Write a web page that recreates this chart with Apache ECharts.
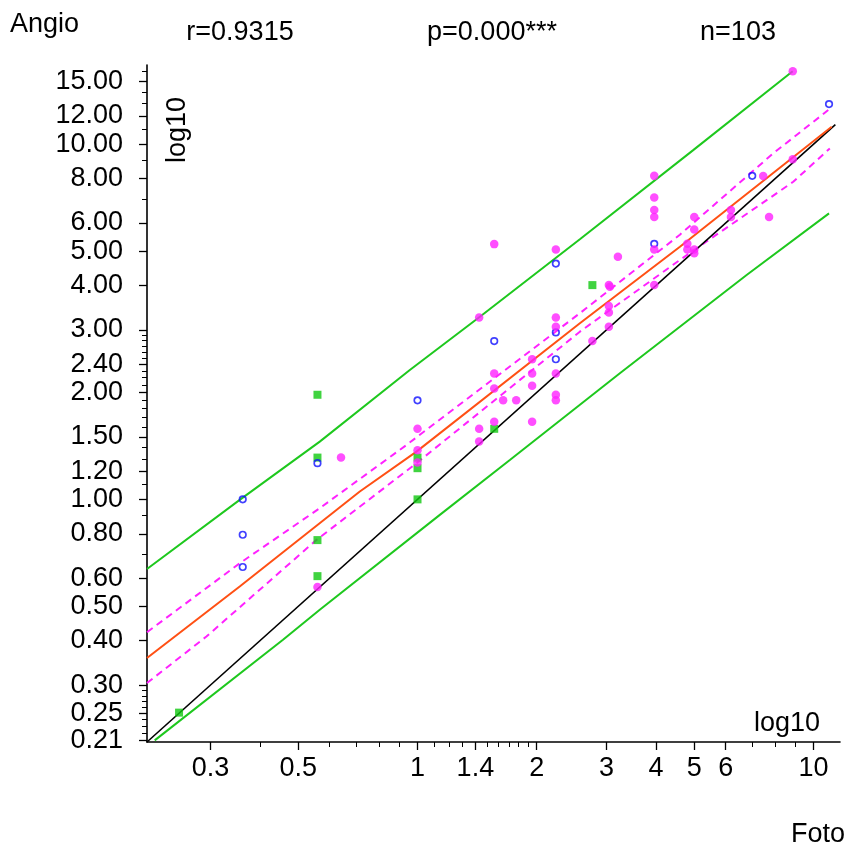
<!DOCTYPE html>
<html><head><meta charset="utf-8">
<script src="https://cdn.jsdelivr.net/npm/echarts@6/dist/echarts.min.js"></script>
<style>html,body{margin:0;padding:0;background:#fff}#c{width:848px;height:851px}</style>
</head><body><div id="c"></div>
<script>
const FONT = "'Liberation Sans', Arial, Helvetica, sans-serif";

// axis ranges (raw units, log10 scale)
const xRange = [0.2075, 11.66];
const yRange = [0.2075, 16.7];

// tick values and labels
const xMajorTicks = [0.3, 0.5, 1, 1.4, 2, 3, 4, 5, 6, 10];
const xTickLabels = ['0.3', '0.5', '1', '1.4', '2', '3', '4', '5', '6', '10'];
const xMinorTicks = [0.4, 0.6, 0.7, 0.8, 0.9, 1.1, 1.2, 1.3, 1.5, 1.6, 1.7, 1.8, 1.9, 7, 8, 9];
const yMajorTicks = [0.21, 0.25, 0.3, 0.4, 0.5, 0.6, 0.8, 1, 1.2, 1.5, 2, 2.4, 3, 4, 5, 6, 8, 10, 12, 15];
const yTickLabels = ['0.21', '0.25', '0.30', '0.40', '0.50', '0.60', '0.80', '1.00', '1.20', '1.50', '2.00', '2.40', '3.00', '4.00', '5.00', '6.00', '8.00', '10.00', '12.00', '15.00'];
const yMinorTicks = [0.22, 0.23, 0.24, 0.26, 0.27, 0.28, 0.29, 0.7, 0.9, 1.1, 1.3, 1.4, 1.6, 1.7, 1.8, 1.9, 2.1, 2.2, 2.3, 2.5, 2.6, 2.7, 2.8, 2.9, 7, 9, 11, 13, 14, 16];

// scatter groups (Foto, Angio)
const greenX = [0.25, 0.559, 0.559, 0.559, 0.559, 1.0, 1.0, 1.0, 1.562, 2.764];
const greenY = [0.251, 1.97, 1.311, 0.768, 0.608, 1.311, 1.224, 1.0, 1.58, 4.01];

const blueX = [0.362, 0.362, 0.362, 0.559, 1.0, 1.562, 2.235, 2.235, 2.235, 3.96, 7.0, 10.94];
const blueY = [1.0, 0.795, 0.645, 1.264, 1.90, 2.79, 4.61, 2.95, 2.48, 5.24, 8.14, 12.96];

const magX = [0.559, 0.641, 1.0, 1.0, 1.0, 1.431, 1.431, 1.431, 1.562, 1.562, 1.562, 1.562,
  1.645, 1.775, 1.947, 1.947, 1.947, 1.947, 2.235, 2.235, 2.235, 2.235, 2.235, 2.235,
  2.764, 3.042, 3.06, 3.042, 3.042, 3.042, 3.206, 3.96, 3.96, 3.96, 3.96, 3.96, 3.96,
  4.80, 4.80, 4.997, 4.997, 4.997, 4.997, 6.185, 6.185, 7.46, 7.72, 8.86, 8.86];
const magY = [0.567, 1.311, 1.58, 1.375, 1.27, 3.25, 1.58, 1.454, 5.23, 2.26, 2.05, 1.655,
  1.90, 1.90, 2.48, 2.26, 2.09, 1.655, 5.05, 3.25, 3.06, 2.26, 1.97, 1.90,
  2.79, 4.01, 3.97, 3.50, 3.36, 3.06, 4.82, 8.14, 7.08, 6.52, 6.24, 5.05, 4.01,
  5.24, 5.05, 6.24, 5.75, 5.05, 4.93, 6.52, 6.24, 8.13, 6.24, 9.06, 16.04];

// lines
const identX = [0.2075, 11.35];
const identY = [0.2075, 11.35];
const regX = [0.2075, 0.3557, 0.715, 0.994, 2.570, 4.598, 11.11];
const regY = [0.3576, 0.5686, 1.052, 1.363, 3.130, 5.141, 11.19];
const ciUpX = [0.2075, 0.3556, 0.5662, 0.9376, 2.570, 4.597, 7.907, 10.89];
const ciUpY = [0.4227, 0.6607, 0.9441, 1.4223, 3.342, 5.559, 9.419, 12.47];
const ciLoX = [0.2075, 0.2931, 0.5559, 0.9943, 2.570, 4.597, 8.886, 10.99];
const ciLoY = [0.3041, 0.4111, 0.7691, 1.2647, 2.965, 4.721, 7.834, 9.727];
const piUpX = [0.2075, 0.3557, 0.5665, 0.9563, 1.437, 2.570, 4.967, 8.856];
const piUpY = [0.637, 0.9968, 1.454, 2.313, 3.267, 5.395, 9.618, 16.04];
const piLoX = [0.2170, 0.4575, 0.5665, 1.1385, 1.7105, 3.243, 6.776, 10.94];
const piLoY = [0.2097, 0.4025, 0.4889, 0.9045, 1.2913, 2.265, 4.280, 6.385];

const L = Math.log10;
function pts(xs, ys) { return xs.map((x, i) => [L(x), L(ys[i])]); }
function fmt(vals, labels) {
  return function (v) {
    for (let i = 0; i < vals.length; i++) if (Math.abs(L(vals[i]) - v) < 1e-6) return labels[i];
    return '';
  };
}

const chart = echarts.init(document.getElementById('c'), null, { renderer: 'canvas' });
const axisCommon = { type: 'value', splitLine: { show: false }, scale: true };

function lineSeries(name, xs, ys, color, width, type) {
  return {
    name, type: 'line', data: pts(xs, ys), showSymbol: false, symbol: 'none',
    lineStyle: { color, width, type: type || 'solid' },
    z: 2, silent: true, animation: false, clip: true
  };
}

chart.setOption({
  animation: false,
  backgroundColor: '#fff',
  grid: { left: 147, right: 8, top: 65, bottom: 109, containLabel: false, outerBoundsMode: 'none' },
  xAxis: [
    Object.assign({}, axisCommon, {
      position: 'bottom', min: L(xRange[0]), max: L(xRange[1]),
      axisLine: { show: true, onZero: false, lineStyle: { color: '#000', width: 1.6 } },
      axisTick: { show: true, length: 8, customValues: xMajorTicks.map(L), lineStyle: { color: '#000', width: 1.3 } },
      axisLabel: { show: true, customValues: xMajorTicks.map(L), formatter: fmt(xMajorTicks, xTickLabels),
        fontFamily: FONT, fontSize: 27, color: '#000', margin: 13 }
    }),
    Object.assign({}, axisCommon, {
      position: 'bottom', min: L(xRange[0]), max: L(xRange[1]),
      axisLine: { show: false, onZero: false },
      axisTick: { show: true, length: 5, customValues: xMinorTicks.map(L), lineStyle: { color: '#000', width: 1 } },
      axisLabel: { show: false }
    })
  ],
  yAxis: [
    Object.assign({}, axisCommon, {
      position: 'left', min: L(yRange[0]), max: L(yRange[1]),
      axisLine: { show: true, onZero: false, lineStyle: { color: '#000', width: 1.6 } },
      axisTick: { show: true, length: 8, customValues: yMajorTicks.map(L), lineStyle: { color: '#000', width: 1.3 } },
      axisLabel: { show: true, customValues: yMajorTicks.map(L), formatter: fmt(yMajorTicks, yTickLabels),
        fontFamily: FONT, fontSize: 27, color: '#000', margin: 24 }
    }),
    Object.assign({}, axisCommon, {
      position: 'left', min: L(yRange[0]), max: L(yRange[1]),
      axisLine: { show: false, onZero: false },
      axisTick: { show: true, length: 5, customValues: yMinorTicks.map(L), lineStyle: { color: '#000', width: 1 } },
      axisLabel: { show: false }
    })
  ],
  series: [
    lineSeries('piUp', piUpX, piUpY, '#1ec81e', 2),
    lineSeries('piLo', piLoX, piLoY, '#1ec81e', 2),
    lineSeries('ciUp', ciUpX, ciUpY, '#ff22ff', 2, [7, 5]),
    lineSeries('ciLo', ciLoX, ciLoY, '#ff22ff', 2, [7, 5]),
    lineSeries('ident', identX, identY, '#000', 1.6),
    lineSeries('reg', regX, regY, '#ff5014', 2),
    { name: 'green', type: 'scatter', data: pts(greenX, greenY), symbol: 'rect', symbolSize: 8,
      itemStyle: { color: '#10c810' }, z: 5, silent: true },
    { name: 'blue', type: 'scatter', data: pts(blueX, blueY), symbol: 'circle', symbolSize: 6.5,
      itemStyle: { color: 'rgba(255,255,255,0)', borderColor: '#1010ff', borderWidth: 1.7 }, z: 5, silent: true },
    { name: 'magenta', type: 'scatter', data: pts(magX, magY), symbol: 'circle', symbolSize: 8.5,
      itemStyle: { color: '#ff22ff' }, z: 5, silent: true }
  ],
  graphic: [
    { type: 'text', left: 10, top: 11, style: { text: 'Angio', font: '27px ' + FONT, fill: '#000' } },
    { type: 'text', x: 240, y: 33, style: { text: 'r=0.9315', font: '27px ' + FONT, fill: '#000', align: 'center', verticalAlign: 'middle' } },
    { type: 'text', x: 492, y: 33, style: { text: 'p=0.000***', font: '27px ' + FONT, fill: '#000', align: 'center', verticalAlign: 'middle' } },
    { type: 'text', x: 738, y: 33, style: { text: 'n=103', font: '27px ' + FONT, fill: '#000', align: 'center', verticalAlign: 'middle' } },
    { type: 'text', x: 178, y: 130, rotation: Math.PI / 2, style: { text: 'log10', font: '27px ' + FONT, fill: '#000', align: 'center', verticalAlign: 'middle' } },
    { type: 'text', x: 787, y: 724, style: { text: 'log10', font: '27px ' + FONT, fill: '#000', align: 'center', verticalAlign: 'middle' } },
    { type: 'text', x: 818, y: 835, style: { text: 'Foto', font: '27px ' + FONT, fill: '#000', align: 'center', verticalAlign: 'middle' } }
  ]
});
</script></body></html>
